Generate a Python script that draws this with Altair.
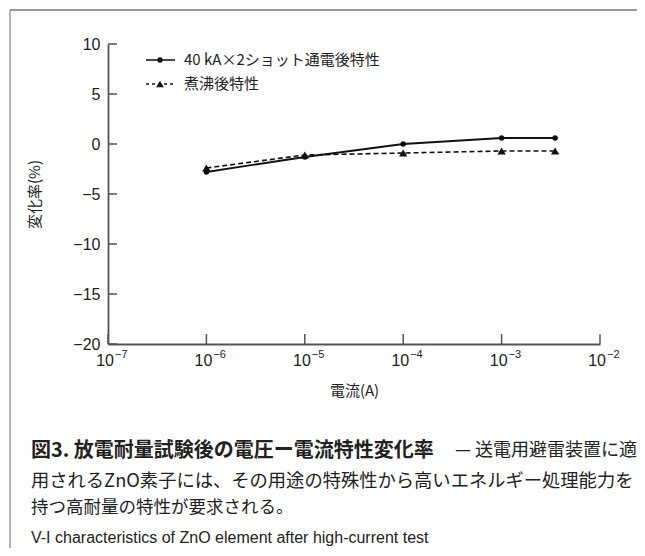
import altair as alt
import pandas as pd

# ---- data ----
current = [1e-6, 1e-5, 1e-4, 1e-3, 3.5e-3]
shot_change = [-2.8, -1.3, 0.0, 0.6, 0.6]      # 40 kA×2ショット通電後特性
boil_change = [-2.4, -1.1, -0.9, -0.7, -0.7]   # 煮沸後特性
series_names = ["40 kA×2ショット通電後特性", "煮沸後特性"]
x_ticks = [1e-7, 1e-6, 1e-5, 1e-4, 1e-3, 1e-2]
x_tick_base = ["10", "10", "10", "10", "10", "10"]
x_tick_exp = ["−7", "−6", "−5", "−4", "−3", "−2"]
y_ticks = [10, 5, 0, -5, -10, -15, -20]
x_title = "電流(A)"
y_title = "変化率(%)"
caption_bold = "図3.  放電耐量試験後の電圧ー電流特性変化率"
caption_rest1 = "— 送電用避雷装置に適"
caption_line2 = "用されるZnO素子には、その用途の特殊性から高いエネルギー処理能力を"
caption_line3 = "持つ高耐量の特性が要求される。"
caption_en = "V-I characteristics of ZnO element after high-current test"

W, H = 492, 300
SANS = "Liberation Sans"
JP = "Noto Sans CJK JP"
INK = "#222222"
AX = "#555555"

xscale = alt.Scale(type="log", domain=[1e-7, 1e-2])
yscale = alt.Scale(domain=[-20, 10], nice=False, zero=False)

xaxis = alt.Axis(values=x_ticks, ticks=False, grid=False, labels=False,
                 domainColor=AX, domainWidth=1.8, title=x_title, titleFont=JP,
                 titleFontSize=15, titleFontWeight="normal", titleColor=INK, titlePadding=39)
yaxis = alt.Axis(values=y_ticks, ticks=False, grid=False,
                 labelExpr="datum.value < 0 ? '−' + abs(datum.value) : '' + datum.value",
                 labelFont=SANS, labelFontSize=16, labelColor=INK, labelPadding=8,
                 domainColor=AX, domainWidth=1.8, title=y_title, titleFont=JP,
                 titleFontSize=15, titleFontWeight="normal", titleColor=INK, titlePadding=30)

X = alt.X("x:Q", scale=xscale, axis=xaxis)
Y = alt.Y("y:Q", scale=yscale, axis=yaxis)

df_shot = pd.DataFrame({"x": current, "y": shot_change})
df_boil = pd.DataFrame({"x": current, "y": boil_change})

line_shot = alt.Chart(df_shot).mark_line(color="#111", strokeWidth=1.8).encode(x=X, y=Y)
pts_shot = alt.Chart(df_shot).mark_point(shape="circle", filled=True, size=30, color="#111", opacity=1).encode(x=X, y=Y)
line_boil = alt.Chart(df_boil).mark_line(color="#111", strokeWidth=1.6, strokeDash=[5, 3]).encode(x=X, y=Y)
pts_boil = alt.Chart(df_boil).mark_point(shape="triangle-up", filled=True, size=70, color="#111", opacity=1).encode(x=X, y=Y)

# inward ticks and superscript tick labels
df_xt = pd.DataFrame({"x": x_ticks, "base": x_tick_base, "exp": x_tick_exp})
xt = alt.Chart(df_xt).mark_rule(color=AX, strokeWidth=1.5).encode(
    x=X, y=alt.value(H), y2=alt.value(H - 10))
xl_base = alt.Chart(df_xt).mark_text(align="right", baseline="middle", font=SANS, fontSize=16,
                                     color=INK, dx=6).encode(x=X, y=alt.value(H + 17), text="base:N")
xl_exp = alt.Chart(df_xt).mark_text(align="left", baseline="middle", font=SANS, fontSize=11,
                                    color=INK, dx=7).encode(x=X, y=alt.value(H + 11), text="exp:N")
df_yt = pd.DataFrame({"y": y_ticks})
yt = alt.Chart(df_yt).mark_rule(color=AX, strokeWidth=1.5).encode(
    y=alt.Y("y:Q", scale=yscale, axis=yaxis), x=alt.value(0), x2=alt.value(9))

# legend
def one(text):
    return pd.DataFrame({"t": [text]})

leg = []
for i, name in enumerate(series_names):
    yy = 16 + 24 * i
    dash = [1, 0] if i == 0 else [3, 3]
    leg.append(alt.Chart(one(name)).mark_rule(color="#111", strokeWidth=1.5, strokeDash=dash).encode(
        x=alt.value(38), x2=alt.value(67), y=alt.value(yy)))
    leg.append(alt.Chart(one(name)).mark_point(shape="circle" if i == 0 else "triangle-up",
                                                filled=True, size=28 if i == 0 else 60,
                                                color="#111", opacity=1).encode(
        x=alt.value(52), y=alt.value(yy)))
    leg.append(alt.Chart(one(name)).mark_text(align="left", baseline="middle", font=JP,
                                               fontSize=15, color=INK).encode(
        x=alt.value(76), y=alt.value(yy), text="t:N"))

# caption
cap = []
cap.append(alt.Chart(one(caption_bold)).mark_text(align="left", baseline="middle", font=JP,
                                                  fontSize=20, fontWeight="bold", color=INK).encode(
    x=alt.value(-77), y=alt.value(407), text="t:N"))
cap.append(alt.Chart(one(caption_rest1)).mark_text(align="right", baseline="middle", font=JP,
                                                   fontSize=18, color=INK).encode(
    x=alt.value(529), y=alt.value(407), text="t:N"))
cap.append(alt.Chart(one(caption_line2)).mark_text(align="left", baseline="middle", font=JP,
                                                   fontSize=18.3, color=INK).encode(
    x=alt.value(-77), y=alt.value(438), text="t:N"))
cap.append(alt.Chart(one(caption_line3)).mark_text(align="left", baseline="middle", font=JP,
                                                   fontSize=17.5, color=INK).encode(
    x=alt.value(-77), y=alt.value(464), text="t:N"))
cap.append(alt.Chart(one(caption_en)).mark_text(align="left", baseline="middle", font=SANS,
                                                fontSize=16, color=INK).encode(
    x=alt.value(-77), y=alt.value(494), text="t:N"))

# frame
frame = [
    alt.Chart(one("f")).mark_rule(color="#999", strokeWidth=2).encode(
        x=alt.value(-98), x2=alt.value(540), y=alt.value(-34)),
    alt.Chart(one("f")).mark_rule(color="#999", strokeWidth=1.5).encode(
        x=alt.value(-98), y=alt.value(-34), y2=alt.value(520)),
]

chart = alt.layer(line_shot, line_boil, pts_shot, pts_boil, xt, xl_base, xl_exp, yt,
                  *leg, *cap, *frame).properties(
    width=W, height=H,
    padding={"left": 100, "top": 36, "right": 37, "bottom": 204},
    autosize=alt.AutoSizeParams(type="none"),
).configure_view(stroke=None)

chart.save("out.html", embed_options={"renderer": "svg", "actions": False})
